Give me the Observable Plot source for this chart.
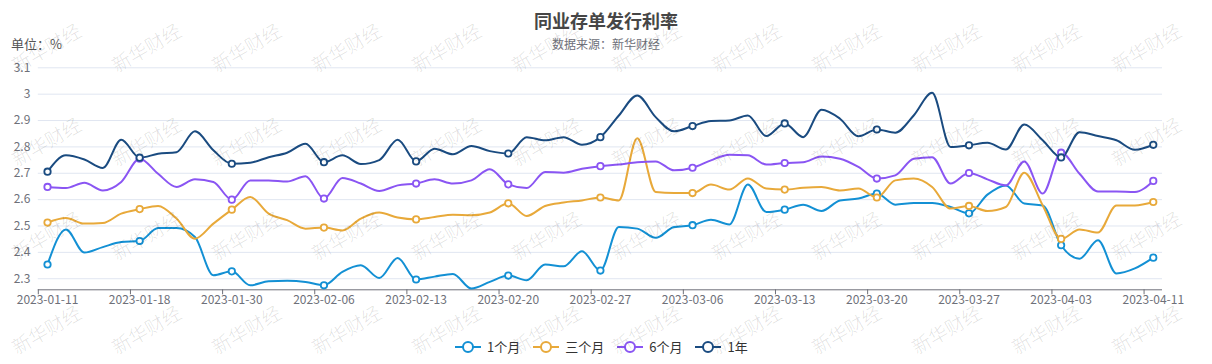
<!DOCTYPE html>
<html><head><meta charset="utf-8">
<script src="https://cdn.jsdelivr.net/npm/d3@7"></script>
<script src="https://cdn.jsdelivr.net/npm/@observablehq/plot@0.6"></script>
<style>
body{margin:0;background:#fff;font-family:"Noto Sans CJK SC","Noto Sans",sans-serif;}
#wrap{position:relative;width:1212px;height:364px;overflow:hidden;background:#fff;}
#chart{position:absolute;left:0;top:0;}
#title{position:absolute;left:0;width:1212px;top:7px;text-align:center;font-size:18px;font-weight:bold;color:#464646;line-height:26px;}
#sub{position:absolute;left:0;width:1212px;top:35px;text-align:center;font-size:12px;color:#6E7079;line-height:18px;}
#unit{position:absolute;left:11px;top:35px;font-size:13px;color:#555;line-height:18px;}
#legend{position:absolute;left:455px;top:338px;display:flex;align-items:center;font-size:13px;color:#333;line-height:18px;}
#legend .it{display:flex;align-items:center;margin-right:13px;}
#legend .it svg{margin-right:6px;}
#wm{position:absolute;left:0;top:0;width:1212px;height:364px;pointer-events:none;z-index:5;}
#wm span{position:absolute;font-size:19px;line-height:22px;font-weight:300;color:rgba(0,0,0,0.13);transform:rotate(-30deg);transform-origin:center;white-space:nowrap;}
</style></head>
<body>
<div id="wrap">
  <div id="chart"></div>
  <div id="title">同业存单发行利率</div>
  <div id="sub">数据来源：新华财经</div>
  <div id="unit">单位：%</div>
  <div id="legend"></div>
  <div id="wm"></div>
</div>
<script>
const dates = ["2023-01-11","2023-01-12","2023-01-13","2023-01-16","2023-01-17","2023-01-18","2023-01-19","2023-01-20","2023-01-28","2023-01-29","2023-01-30","2023-01-31","2023-02-01","2023-02-02","2023-02-03","2023-02-06","2023-02-07","2023-02-08","2023-02-09","2023-02-10","2023-02-13","2023-02-14","2023-02-15","2023-02-16","2023-02-17","2023-02-20","2023-02-21","2023-02-22","2023-02-23","2023-02-24","2023-02-27","2023-02-28","2023-03-01","2023-03-02","2023-03-03","2023-03-06","2023-03-07","2023-03-08","2023-03-09","2023-03-10","2023-03-13","2023-03-14","2023-03-15","2023-03-16","2023-03-17","2023-03-20","2023-03-21","2023-03-22","2023-03-23","2023-03-24","2023-03-27","2023-03-28","2023-03-29","2023-03-30","2023-03-31","2023-04-03","2023-04-04","2023-04-06","2023-04-07","2023-04-10","2023-04-11"];

const seriesNames = ["1个月","三个月","6个月","1年"];
const seriesColors = ["#1390d4","#e8a93a","#8a55f3","#1a4b80"];

const m1 = [2.354,2.487,2.399,2.42,2.439,2.443,2.492,2.492,2.458,2.313, 2.328,2.275,2.29,2.292,2.288,2.275,2.326,2.351,2.303,2.379, 2.297,2.308,2.318,2.263,2.288,2.312,2.294,2.354,2.347,2.404, 2.331,2.496,2.49,2.455,2.496,2.503,2.524,2.506,2.657,2.553, 2.562,2.581,2.557,2.597,2.604,2.623,2.581,2.587,2.587,2.572, 2.548,2.619,2.654,2.585,2.578,2.427,2.376,2.446,2.32,2.339, 2.38];
const m3 = [2.513,2.53,2.509,2.511,2.547,2.564,2.576,2.528,2.452,2.509, 2.562,2.61,2.547,2.522,2.49,2.494,2.483,2.528,2.551,2.532, 2.525,2.534,2.543,2.541,2.551,2.586,2.538,2.576,2.589,2.597, 2.608,2.597,2.833,2.629,2.625,2.625,2.657,2.638,2.68,2.642, 2.638,2.645,2.648,2.635,2.642,2.608,2.673,2.68,2.648,2.566, 2.576,2.557,2.572,2.702,2.578,2.451,2.487,2.475,2.578,2.578, 2.591];
const m6 = [2.648,2.644,2.664,2.635,2.667,2.755,2.698,2.648,2.677,2.667, 2.6,2.673,2.673,2.669,2.689,2.604,2.682,2.661,2.633,2.654, 2.661,2.677,2.661,2.673,2.715,2.658,2.644,2.705,2.702,2.717, 2.727,2.733,2.742,2.745,2.711,2.721,2.749,2.77,2.768,2.733, 2.739,2.742,2.764,2.755,2.724,2.68,2.692,2.755,2.761,2.661, 2.701,2.677,2.654,2.745,2.623,2.778,2.698,2.631,2.631,2.629, 2.671];
const y1 = [2.706,2.768,2.752,2.72,2.827,2.759,2.774,2.78,2.859,2.787, 2.736,2.74,2.761,2.778,2.812,2.742,2.768,2.735,2.75,2.827, 2.745,2.793,2.772,2.803,2.784,2.775,2.837,2.825,2.837,2.808, 2.837,2.919,2.995,2.913,2.859,2.879,2.898,2.9,2.919,2.841, 2.889,2.837,2.941,2.907,2.84,2.866,2.854,2.919,3.005,2.8, 2.806,2.816,2.79,2.885,2.825,2.76,2.856,2.841,2.825,2.789, 2.808];

const yTicks = [2.3,2.4,2.5,2.6,2.7,2.8,2.9,3.0,3.1];
const yMin = 2.258, yMax = 3.1;

const allSeries = [m1, m3, m6, y1];
const rows = [];
allSeries.forEach((arr, k) => arr.forEach((v, i) => rows.push({s: seriesNames[k], i, v})));
const labelIdx = dates.map((d, i) => i).filter(i => i % 5 === 0);
const boundaries = labelIdx.map(i => i - 0.5);

const font = '"Noto Sans CJK SC","Noto Sans",sans-serif';
const chart = Plot.plot({
  width: 1212, height: 320,
  marginTop: 67.3, marginBottom: 30.7, marginLeft: 37.8, marginRight: 50,
  style: {fontSize: "12px", color: "#6E7079", fontFamily: font, background: "transparent"},
  x: {type: "linear", domain: [-0.5, dates.length - 0.5], label: null},
  y: {domain: [yMin, yMax], label: null},
  color: {domain: seriesNames, range: seriesColors},
  marks: [
    Plot.gridY(yTicks, {stroke: "#E0E6F1", strokeOpacity: 1, strokeWidth: 1}),
    Plot.ruleY([yMin], {stroke: "#6E7079"}),
    Plot.axisY(yTicks, {tickSize: 0, tickPadding: 8, tickFormat: d => String(+d.toFixed(1)), fill: "#6E7079", label: null}),
    Plot.axisX(boundaries, {tickSize: 5, tickFormat: () => "", stroke: "#6E7079", label: null}),
    Plot.axisX(labelIdx, {tickSize: 0, tickPadding: 6, tickFormat: i => dates[i], fill: "#6E7079", label: null}),
    Plot.line(rows, {x: "i", y: "v", stroke: "s", z: "s", curve: "monotone-x", strokeWidth: 2}),
    Plot.dot(rows.filter(d => d.i % 5 === 0), {x: "i", y: "v", stroke: "s", fill: "white", r: 3.2, strokeWidth: 1.8})
  ]
});
document.getElementById("chart").appendChild(chart);

// legend
const lg = document.getElementById("legend");
seriesNames.forEach((n, k) => {
  const it = document.createElement("div");
  it.className = "it";
  it.innerHTML = `<svg width="26" height="14"><line x1="0" x2="26" y1="7" y2="7" stroke="${seriesColors[k]}" stroke-width="2"/><circle cx="13" cy="7" r="5" fill="#fff" stroke="${seriesColors[k]}" stroke-width="2"/></svg><span>${n}</span>`;
  lg.appendChild(it);
});

// watermark (decoration)
const wm = document.getElementById("wm");
for (let r = 0; r < 4; r++) {
  for (let c = 0; c < 12; c++) {
    const s = document.createElement("span");
    s.textContent = "新华财经";
    s.style.left = (8 + c * 100) + "px";
    s.style.top = (36 + r * 94) + "px";
    wm.appendChild(s);
  }
}
</script>
</body></html>
